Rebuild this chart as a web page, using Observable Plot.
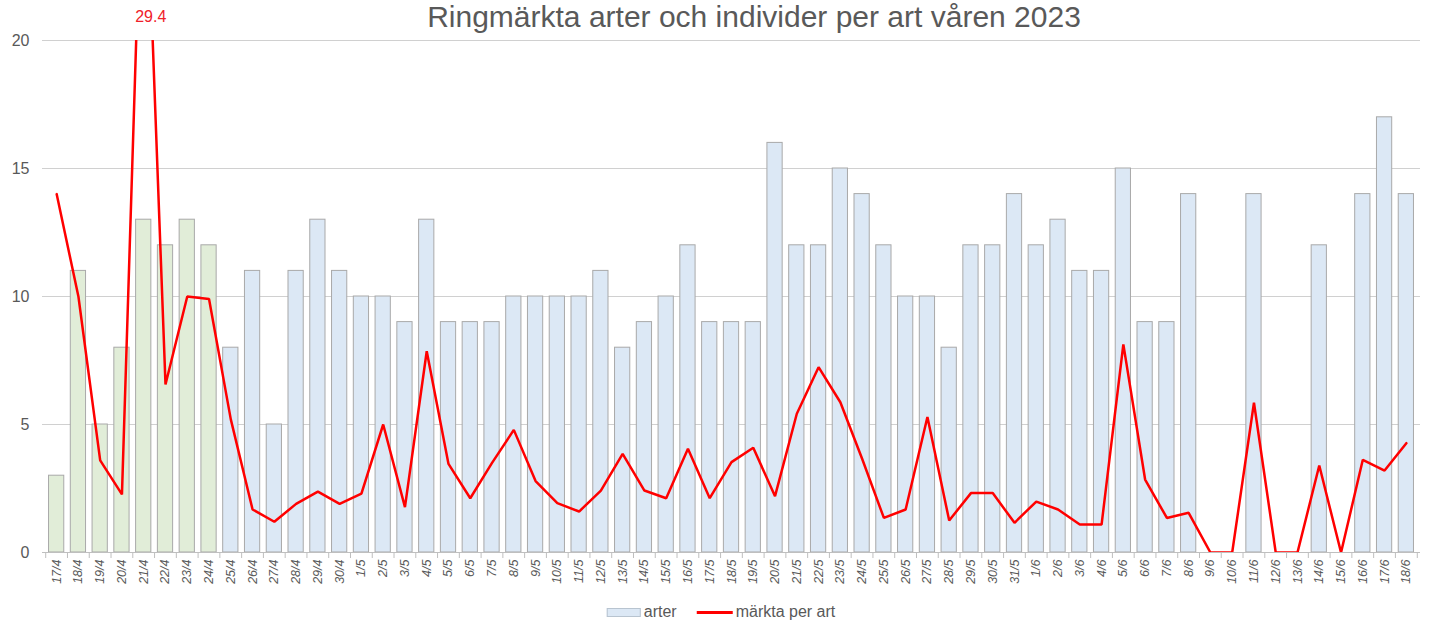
<!DOCTYPE html>
<html>
<head>
<meta charset="utf-8">
<script src="https://cdn.jsdelivr.net/npm/d3@7"></script>
<script src="https://cdn.jsdelivr.net/npm/@observablehq/plot@0.6"></script>
<style>
  html, body { margin: 0; padding: 0; background: #fff; }
  body { font-family: "Liberation Sans", Arial, sans-serif; }
  #wrap { position: relative; width: 1430px; height: 624px; overflow: hidden; }
  #title { position: absolute; top: 0px; left: 754px; transform: translateX(-50%); white-space: nowrap;
           font-size: 30px; line-height: 34px; color: #595959; }
  #chart { position: absolute; top: 0; left: 0; }
  #legend { position: absolute; top: 603px; left: 721px; transform: translateX(-50%); white-space: nowrap;
            display: flex; align-items: center; font-size: 16px; color: #595959; }
  .sw-bar { display: inline-block; width: 32px; height: 7px; background: #dce8f5; border: 1px solid #b8c4d0; margin-right: 3px; }
  .sw-line { display: inline-block; width: 36px; height: 3px; background: #ff0000; margin-left: 20px; margin-right: 3px; }
</style>
</head>
<body>
<div id="wrap">
  <div id="chart"></div>
  <div id="title">Ringmärkta arter och individer per art våren 2023</div>
  <div id="legend"><span class="sw-bar"></span><span>arter</span><span class="sw-line"></span><span>märkta per art</span></div>
</div>
<script>
const dates = ["17/4","18/4","19/4","20/4","21/4","22/4","23/4","24/4","25/4","26/4","27/4","28/4","29/4","30/4",
  "1/5","2/5","3/5","4/5","5/5","6/5","7/5","8/5","9/5","10/5","11/5","12/5","13/5","14/5","15/5","16/5",
  "17/5","18/5","19/5","20/5","21/5","22/5","23/5","24/5","25/5","26/5","27/5","28/5","29/5","30/5","31/5",
  "1/6","2/6","3/6","4/6","5/6","6/6","7/6","8/6","9/6","10/6","11/6","12/6","13/6","14/6","15/6","16/6","17/6","18/6"];
const arter = [3,11,5,8,13,12,13,12,8,11,5,11,13,11,
  10,10,9,13,9,9,9,10,10,10,10,11,8,9,10,12,
  9,9,9,16,12,12,15,14,12,10,10,8,12,12,14,
  12,13,11,11,15,9,9,14,0,0,14,0,0,12,0,14,17,14];
const marktaPerArt = [14.0,10.0,3.6,2.27,29.4,6.56,10.0,9.9,5.2,1.68,1.2,1.9,2.38,1.9,
  2.3,5.0,1.77,7.86,3.46,2.12,3.5,4.79,2.79,1.93,1.6,2.42,3.85,2.42,2.12,4.05,
  2.12,3.53,4.09,2.2,5.42,7.24,5.87,3.66,1.35,1.68,5.29,1.25,2.32,2.32,1.16,
  1.99,1.68,1.09,1.09,8.13,2.85,1.35,1.55,0,0,5.85,0,0,3.4,0,3.62,3.2,4.27];
const yTicks = [0,5,10,15,20];
const peakLabel = "29.4";
const earlyDays = 8; // first days drawn in green

const rows = dates.map((d, i) => ({date: d, arter: arter[i], markta: marktaPerArt[i], early: i < earlyDays}));

const W = 1430, mL = 42, mR = 10;
const step = (W - mL - mR) / dates.length;

const chart = Plot.plot({
  width: W,
  height: 596,
  marginLeft: mL,
  marginRight: mR,
  marginTop: 40,
  marginBottom: 44,
  style: {fontFamily: "'Liberation Sans', Arial, sans-serif", color: "#595959", background: "transparent"},
  x: {domain: dates, padding: 0.3, label: null},
  y: {domain: [0, 20], ticks: yTicks, label: null},
  marks: [
    Plot.gridY(yTicks.filter(t => t > 0), {stroke: "#d0d0d0", strokeOpacity: 1, strokeWidth: 1}),
    Plot.barY(rows.filter(r => r.arter > 0), {
      x: "date", y: "arter",
      fill: r => r.early ? "#e1edd8" : "#dce8f5",
      stroke: "#a9a9a9", strokeWidth: 1
    }),
    Plot.ruleY([0], {stroke: "#bfbfbf", strokeWidth: 1}),
    Plot.ruleX(dates, {x: d => d, dx: -step / 2, y1: 0, y2: 0, insetBottom: -6, stroke: "#bfbfbf"}),
    Plot.ruleX([dates[dates.length - 1]], {x: d => d, dx: step / 2, y1: 0, y2: 0, insetBottom: -6, stroke: "#bfbfbf"}),
    Plot.lineY(rows, {x: "date", y: "markta", stroke: "#ff0000", strokeWidth: 2.5, clip: true, strokeLinejoin: "miter"}),
    Plot.text(rows.filter(r => r.markta > 20), {
      x: "date", y: 20, text: () => peakLabel, dy: -24, dx: 7,
      fill: "#f0202a", fontSize: 16, textAnchor: "middle"
    }),
    Plot.axisY({ticks: yTicks, tickSize: 0, tickPadding: 13, fontSize: 16, fill: "#595959", label: null}),
    Plot.axisX({tickSize: 0, tickRotate: -90, tickPadding: 7, fontSize: 12.5, fontStyle: "italic", fill: "#595959", label: null})
  ]
});
document.getElementById("chart").appendChild(chart);
</script>
</body>
</html>
